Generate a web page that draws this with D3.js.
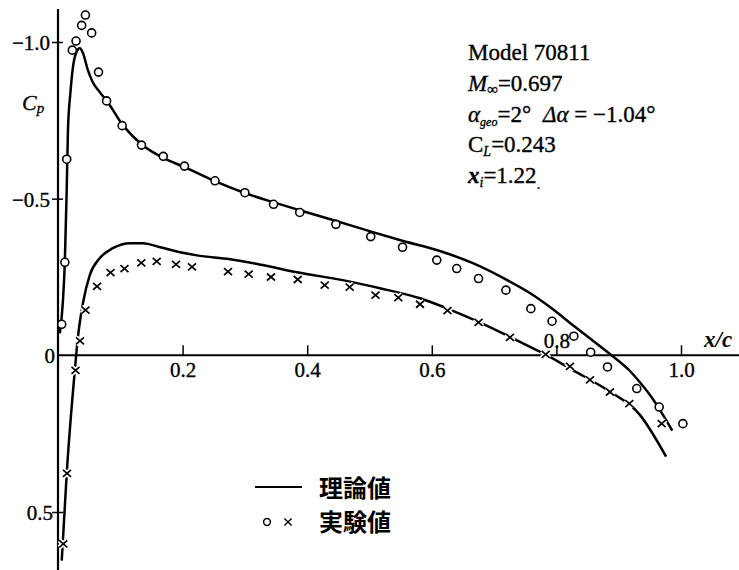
<!DOCTYPE html>
<html><head><meta charset="utf-8">
<script src="https://cdn.jsdelivr.net/npm/d3@7"></script>
<style>body{margin:0;background:#fff}svg{display:block}</style>
</head><body>
<svg id="c" width="739" height="570"></svg>
<script>
// ---- data (x/c, Cp) ----
const xTicks = [0.2, 0.4, 0.6, 0.8, 1.0];
const xTickLabels = ["0.2", "0.4", "0.6", "0.8", "1.0"];
const yTicks = [-1.0, -0.5, 0, 0.5];
const yTickLabels = ["\u22121.0", "\u22120.5", "0", "0.5"];
const legendLabels = ["理論値", "実験値"];

// theory, upper surface
const upperTheory = [
  [0.003,-0.07],[0.008,-0.176],[0.011,-0.30],[0.014,-0.53],[0.016,-0.72],[0.020,-0.84],
  [0.024,-0.92],[0.029,-0.965],[0.035,-0.98],[0.040,-0.965],[0.048,-0.91],[0.055,-0.875],
  [0.067,-0.84],[0.079,-0.81],[0.104,-0.735],[0.135,-0.672],[0.169,-0.63],[0.204,-0.60],
  [0.252,-0.556],[0.300,-0.518],[0.345,-0.489],[0.388,-0.463],[0.448,-0.428],[0.504,-0.394],
  [0.554,-0.365],[0.613,-0.333],[0.666,-0.294],[0.721,-0.240],[0.758,-0.198],[0.795,-0.146],
  [0.827,-0.095],[0.859,-0.046],[0.891,0.004],[0.918,0.050],[0.934,0.086],[0.955,0.140],
  [0.971,0.190],[0.986,0.240]
];
// theory, lower surface
const lowerTheory = [
  [0.006,0.655],[0.014,0.377],[0.027,0.048],[0.032,-0.058],[0.040,-0.166],[0.051,-0.256],
  [0.067,-0.31],[0.088,-0.342],[0.116,-0.358],[0.136,-0.358],[0.164,-0.345],[0.196,-0.329],
  [0.223,-0.319],[0.276,-0.307],[0.329,-0.288],[0.384,-0.265],[0.457,-0.240],[0.517,-0.214],
  [0.581,-0.182],[0.624,-0.150],[0.677,-0.105],[0.726,-0.058],[0.769,-0.016],[0.785,0.0],
  [0.827,0.048],[0.881,0.110],[0.934,0.190],[0.976,0.323]
];
// experiment, upper surface (circles)
const upperExp = [
  [0.006,-0.099],[0.011,-0.297],[0.014,-0.626],[0.023,-0.974],[0.029,-1.003],[0.038,-1.053],
  [0.044,-1.086],[0.054,-1.029],[0.065,-0.904],[0.078,-0.812],[0.103,-0.733],[0.134,-0.671],
  [0.169,-0.635],[0.203,-0.604],[0.252,-0.557],[0.300,-0.519],[0.346,-0.482],[0.388,-0.456],
  [0.446,-0.418],[0.502,-0.379],[0.553,-0.345],[0.608,-0.304],[0.640,-0.277],[0.675,-0.245],
  [0.719,-0.208],[0.759,-0.149],[0.793,-0.109],[0.828,-0.061],[0.855,-0.010],[0.882,0.037],
  [0.929,0.106],[0.965,0.165],[1.003,0.218]
];
// experiment, lower surface (crosses)
const lowerExp = [
  [0.0085,0.602],[0.0144,0.377],[0.0281,0.048],[0.0353,-0.046],[0.0441,-0.144],[0.0626,-0.220],
  [0.0843,-0.264],[0.1067,-0.277],[0.1337,-0.295],[0.1584,-0.300],[0.1894,-0.290],[0.2151,-0.282],
  [0.2729,-0.267],[0.3061,-0.259],[0.3419,-0.250],[0.3848,-0.242],[0.4281,-0.224],[0.4682,-0.218],
  [0.5096,-0.192],[0.5462,-0.184],[0.5811,-0.163],[0.6252,-0.143],[0.6750,-0.105],[0.7255,-0.057],
  [0.7828,-0.003],[0.8218,0.035],[0.8539,0.078],[0.8860,0.117],[0.9170,0.154],[0.9690,0.218]
];

// ---- drawing ----
const svg = d3.select("#c");
const serif = "'Liberation Serif','Times New Roman',serif";
const x = d3.scaleLinear().domain([0, 1]).range([58, 681]);
const y = d3.scaleLinear().domain([-1, 0.5]).range([42, 512]);

// axis lines
svg.append("line").attr("x1", x(0)).attr("x2", 739).attr("y1", y(0)).attr("y2", y(0))
  .attr("stroke", "#000").attr("stroke-width", 2);
svg.append("line").attr("x1", x(0)).attr("x2", x(0)).attr("y1", 9).attr("y2", 570)
  .attr("stroke", "#000").attr("stroke-width", 2.2);

// x axis ticks
const gx = svg.append("g").attr("transform", `translate(0,${y(0)})`)
  .call(d3.axisBottom(x).tickValues(xTicks).tickSize(-10).tickPadding(7)
    .tickFormat((d, i) => xTickLabels[i]));
gx.select(".domain").remove();
gx.selectAll(".tick line").attr("stroke", "#000").attr("stroke-width", 1.5);
gx.selectAll(".tick text").attr("font-family", serif).attr("font-size", 21).attr("fill", "#000")
  .attr("stroke", "#000").attr("stroke-width", 0.35)
  .attr("y", (d) => d === 0.8 ? -22 : 7);

// y axis ticks
const gy = svg.append("g").attr("transform", `translate(${x(0)},0)`)
  .call(d3.axisLeft(y).tickValues(yTicks).tickSize(6).tickPadding(2)
    .tickFormat((d, i) => yTickLabels[i]));
gy.select(".domain").remove();
gy.selectAll(".tick line").attr("stroke", "#000").attr("stroke-width", 1.5).attr("x1", 5)
  .attr("display", d => d === 0 ? "none" : null);
gy.selectAll(".tick text").attr("font-family", serif).attr("font-size", 21).attr("fill", "#000")
  .attr("stroke", "#000").attr("stroke-width", 0.35)
  .attr("x", d => d === 0 ? -3 : (d === 0.5 ? -5 : -8)).attr("dy", "0.36em");

// axis titles
const cp = svg.append("text").attr("x", 22).attr("y", 110).attr("font-family", serif)
  .attr("font-size", 22).attr("font-style", "italic").attr("stroke", "#000").attr("stroke-width", 0.3);
cp.append("tspan").text("C");
cp.append("tspan").attr("font-size", 15).attr("dy", 3).text("p");
svg.append("text").attr("x", 704).attr("y", 347).attr("font-family", serif)
  .attr("font-size", 23).attr("font-style", "italic").attr("font-weight", "bold").text("x/c");

// theory lines
const line = d3.line().x(d => x(d[0])).y(d => y(d[1])).curve(d3.curveMonotoneX);
[upperTheory, lowerTheory].forEach(dat => {
  svg.append("path").datum(dat).attr("d", line).attr("fill", "none")
    .attr("stroke", "#000").attr("stroke-width", 2.5).attr("stroke-linejoin", "round");
});

// crosses
const crossPath = "M-4,-3.5L4,3.5M-4,3.5L4,-3.5";
const cr = svg.append("g").selectAll("g").data(lowerExp).join("g")
  .attr("transform", d => `translate(${x(d[0])},${y(d[1])})`);
cr.append("path").attr("d", crossPath).attr("stroke", "#fff").attr("stroke-width", 5);
cr.append("path").attr("d", crossPath).attr("stroke", "#000").attr("stroke-width", 1.7);

// circles
svg.append("g").selectAll("circle").data(upperExp).join("circle")
  .attr("cx", d => x(d[0])).attr("cy", d => y(d[1])).attr("r", 4)
  .attr("fill", "#fff").attr("stroke", "#000").attr("stroke-width", 1.6);

// annotation
const ann = svg.append("g").attr("font-family", serif).attr("font-size", 23).attr("fill", "#000")
  .attr("stroke", "#000").attr("stroke-width", 0.35);
ann.append("text").attr("x", 468).attr("y", 60).text("Model 70811");
let t = ann.append("text").attr("x", 468).attr("y", 91);
t.append("tspan").attr("font-style", "italic").text("M");
t.append("tspan").attr("font-size", 15).attr("dy", 3).text("\u221e");
t.append("tspan").attr("dy", -3).text("=0.697");
t = ann.append("text").attr("x", 468).attr("y", 122);
t.append("tspan").attr("font-style", "italic").text("\u03b1");
t.append("tspan").attr("font-size", 12).attr("font-style", "italic").attr("dy", 4).text("geo");
t.append("tspan").attr("dy", -4).text("=2°");
t.append("tspan").attr("x", 543).attr("font-style", "italic").text("\u0394\u03b1");
t.append("tspan").text(" = \u22121.04°");
t = ann.append("text").attr("x", 468).attr("y", 152);
t.append("tspan").text("C");
t.append("tspan").attr("font-size", 14).attr("font-style", "italic").attr("dy", 4).text("L");
t.append("tspan").attr("dy", -4).text("=0.243");
t = ann.append("text").attr("x", 468).attr("y", 183);
t.append("tspan").attr("font-weight", "bold").attr("font-style", "italic").text("x");
t.append("tspan").attr("font-size", 14).attr("font-style", "italic").attr("dy", 4).text("i");
t.append("tspan").attr("dy", -4).text("=1.22");
t.append("tspan").attr("font-size", 14).attr("dy", 6).text(".");

// legend
svg.append("line").attr("x1", 255).attr("x2", 302).attr("y1", 487).attr("y2", 487)
  .attr("stroke", "#000").attr("stroke-width", 2);
svg.append("circle").attr("cx", 267).attr("cy", 522).attr("r", 3.4)
  .attr("fill", "#fff").attr("stroke", "#000").attr("stroke-width", 1.5);
svg.append("path").attr("transform", "translate(288,522)").attr("d", "M-3.6,-3.4L3.6,3.4M-3.6,3.4L3.6,-3.4")
  .attr("stroke", "#000").attr("stroke-width", 1.4);
svg.append("g").selectAll("text").data(legendLabels).join("text")
  .attr("x", 319).attr("y", (d, i) => 488 + i * 34).attr("dy", "0.36em")
  .attr("font-family", "'Noto Sans CJK JP',sans-serif").attr("font-weight", "bold")
  .attr("font-size", 24).text(d => d);
</script>
</body></html>
